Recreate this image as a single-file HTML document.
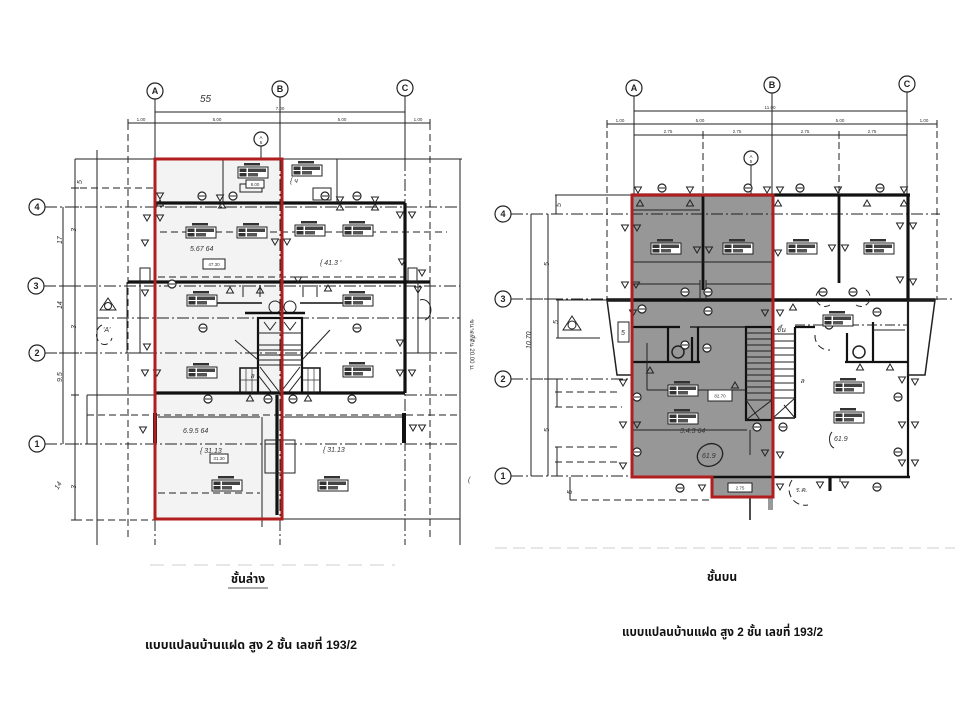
<!DOCTYPE html>
<html><head><meta charset="utf-8"><style>
html,body{margin:0;padding:0;background:#fff;}
svg{display:block}
.t{stroke:#222;stroke-width:1;fill:none}
.th{stroke:#333;stroke-width:0.7;fill:none}
.w{stroke:#111;stroke-width:3.2;fill:none}
.w2{stroke:#111;stroke-width:2.2;fill:none}
.dd{stroke-dasharray:12 3 2 3}
.da{stroke-dasharray:7 4}
.gc{fill:#fff;stroke:#222;stroke-width:1.2}
.gt{font:bold 9px "Liberation Sans",sans-serif;fill:#222;text-anchor:middle}
.sm{font:4.5px "Liberation Sans",sans-serif;fill:#333;text-anchor:middle}
.hw{font:italic 7px "Liberation Sans",sans-serif;fill:#333}
.cap{font-family:"Liberation Sans","Noto Sans Thai","Loma","Garuda","Norasi","DejaVu Sans",sans-serif;font-weight:bold;font-size:12px;fill:#111}
.red{fill:none;stroke:#b01e1e;stroke-width:3}
</style></head><body>
<svg width="960" height="720" viewBox="0 0 960 720" xmlns="http://www.w3.org/2000/svg">
<defs>
 <g id="lab">
  <rect x="6" y="0" width="16" height="2.5" fill="#333"/>
  <rect x="0" y="4" width="30" height="11" fill="#fff" stroke="#222" stroke-width="1"/>
  <rect x="1.5" y="5.5" width="7" height="3.5" fill="#333"/>
  <rect x="10" y="5.5" width="18" height="3.5" fill="#444"/>
  <rect x="1.5" y="10" width="7" height="3.5" fill="#333"/>
  <rect x="10" y="10" width="10" height="3.5" fill="#555"/>
 </g>
 <g id="tr"><path d="M-3.5,-3 H3.5 L0,3 Z" fill="none" stroke="#222" stroke-width="1"/></g>
 <g id="tu"><path d="M-3.5,3 H3.5 L0,-3 Z" fill="none" stroke="#222" stroke-width="1"/></g>
 <g id="ci"><circle r="4" fill="#fff" stroke="#222" stroke-width="1.2"/><line x1="-3" x2="3" stroke="#222" stroke-width="1"/></g>
</defs>

<!-- ================= LEFT PLAN ================= -->
<rect x="155" y="159" width="127" height="360" fill="#f3f3f3"/>

<!-- grid columns -->
<line class="t" x1="155" y1="99" x2="155" y2="159"/>
<line class="t" x1="280" y1="97" x2="280" y2="159"/>
<line class="t" x1="405" y1="96" x2="405" y2="159"/>
<line class="t dd" x1="280" y1="159" x2="280" y2="545"/>
<line class="t dd" x1="405" y1="159" x2="405" y2="545"/>
<line class="t dd" x1="155" y1="519" x2="155" y2="545"/>
<circle class="gc" cx="155" cy="91" r="8"/><text class="gt" x="155" y="94">A</text>
<circle class="gc" cx="280" cy="89" r="8"/><text class="gt" x="280" y="92">B</text>
<circle class="gc" cx="405" cy="88" r="8"/><text class="gt" x="405" y="91">C</text>
<text class="hw" x="200" y="102" style="font-size:10px">55</text>

<!-- top dimension lines -->
<line class="t" x1="155" y1="112" x2="405" y2="112"/>
<text class="sm" x="280" y="110">7.00</text>
<line class="t" x1="128" y1="123" x2="430" y2="123"/>
<g class="t"><line x1="128" y1="119" x2="128" y2="127"/><line x1="155" y1="108" x2="155" y2="127"/><line x1="280" y1="108" x2="280" y2="127"/><line x1="405" y1="108" x2="405" y2="127"/><line x1="430" y1="119" x2="430" y2="127"/></g>
<text class="sm" x="141" y="121">1.00</text><text class="sm" x="217" y="121">5.00</text><text class="sm" x="342" y="121">5.00</text><text class="sm" x="418" y="121">1.00</text>
<line class="t da" x1="128" y1="123" x2="128" y2="540"/>
<line class="t da" x1="430" y1="123" x2="430" y2="540"/>

<!-- section mark top -->
<circle class="gc" cx="261" cy="139" r="7"/><line class="t" x1="261" y1="146" x2="261" y2="159"/><text class="sm" x="261" y="139">A</text><text class="sm" x="261" y="144">5</text>

<!-- outline -->
<line class="t" x1="75" y1="159" x2="462" y2="159"/>
<line class="t" x1="97" y1="150" x2="97" y2="545"/>
<line class="t" x1="460" y1="159" x2="460" y2="545"/>
<line class="t" x1="75" y1="159" x2="75" y2="520"/>
<line class="t" x1="63" y1="207" x2="63" y2="444"/>
<g class="t"><line x1="71" y1="188" x2="79" y2="188"/><line x1="71" y1="207" x2="79" y2="207"/><line x1="71" y1="286" x2="79" y2="286"/><line x1="71" y1="353" x2="79" y2="353"/><line x1="71" y1="395" x2="79" y2="395"/><line x1="71" y1="444" x2="79" y2="444"/><line x1="71" y1="520" x2="79" y2="520"/><line x1="59" y1="286" x2="67" y2="286"/><line x1="59" y1="353" x2="67" y2="353"/></g>
<text class="hw" x="58" y="240" transform="rotate(-90 62 240)">17</text>
<text class="hw" x="58" y="305" transform="rotate(-90 62 305)">14</text>
<text class="hw" x="58" y="378" transform="rotate(-90 62 378)">9.5</text>
<text class="hw" x="72" y="228" transform="rotate(-90 76 228)">3</text>
<text class="hw" x="72" y="325" transform="rotate(-90 76 325)">3</text>
<text class="hw" x="72" y="485" transform="rotate(-90 76 485)">3</text>
<text class="hw" x="58" y="490" transform="rotate(-60 58 490)">14</text>
<text class="hw" x="80" y="182" transform="rotate(-90 82 182)">5</text>

<!-- row grid -->
<circle class="gc" cx="37" cy="207" r="8"/><text class="gt" x="37" y="210">4</text>
<circle class="gc" cx="36" cy="286" r="8"/><text class="gt" x="36" y="289">3</text>
<circle class="gc" cx="37" cy="353" r="8"/><text class="gt" x="37" y="356">2</text>
<circle class="gc" cx="37" cy="444" r="8"/><text class="gt" x="37" y="447">1</text>
<line class="t dd" x1="45" y1="207" x2="460" y2="207"/>
<line class="t dd" x1="44" y1="286" x2="460" y2="286"/>
<line class="t dd" x1="45" y1="353" x2="460" y2="353"/>
<line class="t dd" x1="45" y1="444" x2="460" y2="444"/>
<line class="t da" x1="80" y1="188" x2="155" y2="188"/>
<line class="t da" x1="160" y1="232" x2="447" y2="232"/>
<line class="t da" x1="158" y1="277" x2="405" y2="277"/>
<line class="t dd" x1="97" y1="318" x2="460" y2="318"/>
<line class="t" x1="87" y1="395" x2="155" y2="395"/>
<line class="t dd" x1="405" y1="395" x2="460" y2="395"/>
<line class="t da" x1="87" y1="415" x2="460" y2="415"/>
<line class="t" x1="87" y1="395" x2="87" y2="444"/>
<line class="t da" x1="75" y1="520" x2="155" y2="520"/>
<line class="t" x1="280" y1="519" x2="460" y2="519"/>

<!-- walls -->
<line class="w" x1="155" y1="203" x2="405" y2="203"/>
<line class="w" x1="405" y1="203" x2="405" y2="393"/>
<line class="w" x1="128" y1="282" x2="430" y2="282"/>
<line class="w" x1="155" y1="393" x2="405" y2="393"/>
<line class="t" x1="223" y1="159" x2="223" y2="203"/>
<line class="t" x1="337" y1="159" x2="337" y2="203"/>
<rect x="140" y="268" width="10" height="14" class="t"/>
<rect x="408" y="268" width="9" height="14" class="t"/>
<line class="t" x1="127" y1="282" x2="127" y2="353"/><line class="t" x1="140" y1="282" x2="140" y2="353"/>
<line class="t" x1="127" y1="353" x2="155" y2="353"/>
<line class="t" x1="418" y1="282" x2="418" y2="353"/><line class="t" x1="430" y1="282" x2="430" y2="353"/>
<line class="t" x1="405" y1="353" x2="430" y2="353"/>
<line class="t" x1="158" y1="417" x2="260" y2="417"/>
<line class="t" x1="283" y1="417" x2="403" y2="417"/>
<line class="t" x1="262" y1="417" x2="262" y2="527"/>
<line class="w" x1="277" y1="395" x2="277" y2="515"/>
<rect class="t" x="265" y="440" width="30" height="33"/>
<line class="t da" x1="158" y1="493" x2="260" y2="493"/>
<line class="w" x1="404" y1="413" x2="404" y2="443" style="stroke-width:4"/>
<line class="w" x1="155" y1="413" x2="155" y2="443" style="stroke-width:4"/>
<!-- wall details row 3 -->
<line class="w2" x1="187" y1="303" x2="262" y2="303" style="stroke-width:1.5"/>
<line class="w2" x1="300" y1="303" x2="373" y2="303" style="stroke-width:1.5"/>
<g class="t"><line x1="243" y1="285" x2="243" y2="297"/><line x1="303" y1="285" x2="303" y2="297"/><line x1="317" y1="285" x2="317" y2="297"/><line x1="260" y1="285" x2="260" y2="297"/></g>
<circle class="t" cx="275" cy="307" r="6"/><circle class="t" cx="290" cy="307" r="6"/>
<rect class="t" x="313" y="188" width="18" height="12"/>
<rect class="t" x="240" y="184" width="22" height="8"/>
<!-- stairs -->
<line class="w" x1="245" y1="313" x2="305" y2="313" style="stroke-width:2.5"/>
<rect class="w2" x="258" y="318" width="44" height="75"/>
<g class="t"><line x1="258" y1="333" x2="302" y2="333"/><line x1="258" y1="345" x2="302" y2="345"/><line x1="258" y1="350" x2="302" y2="350"/><line x1="258" y1="355" x2="302" y2="355"/><line x1="258" y1="360" x2="302" y2="360"/><line x1="258" y1="365" x2="302" y2="365"/>
<line x1="260" y1="367" x2="280" y2="393"/><line x1="300" y1="367" x2="280" y2="393"/><line x1="258" y1="375" x2="272" y2="393"/><line x1="302" y1="375" x2="288" y2="393"/>
<path d="M264,322 L270,330 L276,322 M284,322 L290,330 L296,322"/></g>
<rect class="w2" x="240" y="368" width="18" height="25" style="stroke-width:1.5"/>
<rect class="w2" x="302" y="368" width="18" height="25" style="stroke-width:1.5"/>
<g class="th"><line x1="246" y1="368" x2="246" y2="393"/><line x1="252" y1="368" x2="252" y2="393"/><line x1="240" y1="380" x2="258" y2="380"/><line x1="308" y1="368" x2="308" y2="393"/><line x1="314" y1="368" x2="314" y2="393"/><line x1="302" y1="380" x2="320" y2="380"/></g>
<line class="t" x1="235" y1="340" x2="258" y2="360"/><line class="t" x1="302" y1="360" x2="330" y2="330"/>

<!-- circles -->
<use href="#ci" x="202" y="196"/><use href="#ci" x="233" y="196"/><use href="#ci" x="325" y="196"/><use href="#ci" x="357" y="196"/>
<use href="#ci" x="208" y="399"/><use href="#ci" x="268" y="399"/><use href="#ci" x="293" y="399"/><use href="#ci" x="352" y="399"/>
<use href="#ci" x="203" y="328"/><use href="#ci" x="357" y="328"/><use href="#ci" x="172" y="284"/>

<!-- triangles -->
<use href="#tr" x="160" y="196"/><use href="#tu" x="160" y="203"/><use href="#tr" x="220" y="198"/><use href="#tu" x="222" y="205"/>
<use href="#tr" x="340" y="200"/><use href="#tu" x="340" y="207"/><use href="#tr" x="375" y="200"/><use href="#tu" x="375" y="207"/>
<use href="#tr" x="147" y="218"/><use href="#tr" x="160" y="218"/><use href="#tr" x="400" y="215"/><use href="#tr" x="412" y="215"/>
<use href="#tr" x="145" y="243"/><use href="#tr" x="275" y="242"/><use href="#tr" x="287" y="242"/><use href="#tr" x="402" y="262"/>
<use href="#tu" x="230" y="290"/><use href="#tu" x="260" y="290"/><use href="#tr" x="298" y="280"/><use href="#tu" x="328" y="288"/><use href="#tr" x="422" y="273"/>
<use href="#tr" x="145" y="373"/><use href="#tr" x="157" y="373"/><use href="#tr" x="400" y="373"/><use href="#tr" x="412" y="373"/>
<use href="#tu" x="250" y="398"/><use href="#tu" x="308" y="398"/><use href="#tr" x="143" y="430"/><use href="#tr" x="413" y="428"/><use href="#tr" x="422" y="428"/>
<use href="#tr" x="147" y="347"/><use href="#tr" x="400" y="343"/><use href="#tr" x="145" y="293"/><use href="#tr" x="418" y="290"/>

<!-- room labels -->
<use href="#lab" x="238" y="163"/><use href="#lab" x="292" y="161"/>
<use href="#lab" x="186" y="223"/><use href="#lab" x="237" y="223"/><use href="#lab" x="295" y="221"/><use href="#lab" x="343" y="221"/>
<use href="#lab" x="187" y="291"/><use href="#lab" x="343" y="291"/>
<use href="#lab" x="187" y="363"/><use href="#lab" x="343" y="362"/>
<use href="#lab" x="212" y="476"/><use href="#lab" x="318" y="476"/>
<rect x="203" y="259" width="22" height="10" fill="#fff" stroke="#222"/><text class="sm" x="214" y="266">47.30</text>
<rect x="210" y="454" width="18" height="9" fill="#fff" stroke="#222"/><text class="sm" x="219" y="460">31.30</text>
<rect x="246" y="180" width="18" height="8" fill="#fff" stroke="#222"/><text class="sm" x="255" y="186">8.00</text>
<text class="hw" x="190" y="251">5.67 64</text>
<text class="hw" x="320" y="265">{ 41.3 '</text>
<text class="hw" x="183" y="433">6.9.5 64</text>
<text class="hw" x="200" y="453">{ 31.13</text>
<text class="hw" x="323" y="452">{ 31.13</text>
<text class="hw" x="290" y="183">{ ч</text>
<text class="hw" x="250" y="378">ล</text>
<!-- section mark left -->
<path d="M100,310 L108,298 L116,310 Z" class="t"/><circle class="t" cx="108" cy="306" r="3.5"/>
<path d="M102,325 A8,10 0 1 0 112,338" class="t da"/>
<text class="hw" x="103" y="332">'A'</text>
<path d="M420,300 A8,10 0 0 1 425,320" class="t"/>
<text class="sm" x="470" y="345" transform="rotate(90 470 345)" style="font-size:6px">ขนาดที่ดิน 20.00 ม.</text>
<text class="hw" x="468" y="482">(</text>

<rect class="red" x="155" y="159" width="127" height="360"/>

<!-- ================= RIGHT PLAN ================= -->
<polygon points="632,195 773,195 773,497 712,497 712,477 632,477" fill="#979797"/>

<line class="t" x1="634" y1="96" x2="634" y2="195"/>
<line class="t" x1="772" y1="93" x2="772" y2="195"/>
<line class="t" x1="907" y1="92" x2="907" y2="195"/>
<line class="t da" x1="703" y1="131" x2="703" y2="195"/>
<line class="t da" x1="839" y1="131" x2="839" y2="195"/>
<line class="t da" x1="607" y1="120" x2="607" y2="300"/>
<line class="t da" x1="937" y1="120" x2="937" y2="300"/>
<circle class="gc" cx="634" cy="88" r="8"/><text class="gt" x="634" y="91">A</text>
<circle class="gc" cx="772" cy="85" r="8"/><text class="gt" x="772" y="88">B</text>
<circle class="gc" cx="907" cy="84" r="8"/><text class="gt" x="907" y="87">C</text>
<line class="t" x1="634" y1="111" x2="907" y2="111"/><text class="sm" x="770" y="109">11.00</text>
<line class="t" x1="607" y1="124" x2="937" y2="124"/>
<line class="t" x1="634" y1="135" x2="907" y2="135"/>
<g class="t"><line x1="607" y1="120" x2="607" y2="128"/><line x1="937" y1="120" x2="937" y2="128"/><line x1="703" y1="131" x2="703" y2="139"/><line x1="839" y1="131" x2="839" y2="139"/></g>
<text class="sm" x="620" y="122">1.00</text><text class="sm" x="700" y="122">5.00</text><text class="sm" x="840" y="122">5.00</text><text class="sm" x="924" y="122">1.00</text>
<text class="sm" x="668" y="133">2.75</text><text class="sm" x="737" y="133">2.75</text><text class="sm" x="805" y="133">2.75</text><text class="sm" x="872" y="133">2.75</text>
<circle class="gc" cx="751" cy="158" r="7"/><line class="t" x1="751" y1="165" x2="751" y2="195"/><text class="sm" x="751" y="158">A</text><text class="sm" x="751" y="163">5</text>

<!-- row grid -->
<circle class="gc" cx="503" cy="214" r="8"/><text class="gt" x="503" y="217">4</text>
<circle class="gc" cx="503" cy="299" r="8"/><text class="gt" x="503" y="302">3</text>
<circle class="gc" cx="503" cy="379" r="8"/><text class="gt" x="503" y="382">2</text>
<circle class="gc" cx="503" cy="476" r="8"/><text class="gt" x="503" y="479">1</text>
<line class="t dd" x1="511" y1="214" x2="940" y2="214"/>
<line class="t dd" x1="511" y1="299" x2="607" y2="299"/>
<line class="t dd" x1="935" y1="299" x2="952" y2="299"/>
<line class="t dd" x1="511" y1="379" x2="632" y2="379"/>
<line class="t dd" x1="511" y1="476" x2="632" y2="476"/>
<line class="t" x1="531" y1="214" x2="531" y2="476"/>
<line class="t" x1="548" y1="214" x2="548" y2="476"/>
<g class="t"><line x1="544" y1="299" x2="552" y2="299"/><line x1="527" y1="299" x2="535" y2="299"/><line x1="544" y1="379" x2="552" y2="379"/></g>
<text class="hw" x="545" y="262" transform="rotate(-90 549 262)">5</text>
<text class="hw" x="527" y="345" transform="rotate(-90 531 345)">10.70</text>
<text class="hw" x="545" y="428" transform="rotate(-90 549 428)">5</text>
<line class="t" x1="555" y1="195" x2="632" y2="195"/><line class="t" x1="556" y1="195" x2="556" y2="214"/>
<text class="hw" x="557" y="207" transform="rotate(-90 559 205)">5</text>
<line class="t" x1="556" y1="300" x2="607" y2="300"/><line class="t" x1="556" y1="338" x2="600" y2="338"/><line class="t" x1="558" y1="300" x2="558" y2="338"/>
<text class="hw" x="554" y="320" transform="rotate(-90 558 320)">5</text>
<g class="t da"><line x1="555" y1="392" x2="620" y2="392"/><line x1="555" y1="407" x2="622" y2="407"/><line x1="555" y1="447" x2="620" y2="447"/><line x1="555" y1="462" x2="620" y2="462"/></g>
<line class="t" x1="557" y1="379" x2="557" y2="407"/><line class="t" x1="557" y1="447" x2="557" y2="476"/>
<line class="t" x1="570" y1="477" x2="570" y2="500"/><line class="t da" x1="570" y1="500" x2="712" y2="500"/>
<text class="hw" x="566" y="492" transform="rotate(-90 570 490)">5</text>
<!-- section mark -->
<path d="M563,330 L572,316 L581,330 Z" class="t"/><circle class="t" cx="572" cy="325" r="4"/>

<!-- walls -->
<line class="w" x1="632" y1="195" x2="910" y2="195"/>
<line class="w" x1="703" y1="195" x2="703" y2="290" style="stroke-width:2.8"/>
<line class="w" x1="839" y1="195" x2="839" y2="283" style="stroke-width:2.8"/>
<line class="w" x1="908" y1="195" x2="908" y2="300"/>
<line class="w2" x1="908" y1="300" x2="908" y2="477"/>
<line class="w" x1="607" y1="300" x2="935" y2="300" style="stroke-width:3.6"/>
<line class="w2" x1="773" y1="477" x2="910" y2="477" style="stroke-width:2.6"/>
<polygon class="t" points="607,300 632,300 632,375 617,375" style="stroke-width:1.5"/>
<rect x="618" y="322" width="11" height="20" fill="#fff" stroke="#222"/><text class="hw" x="621" y="335">5</text>
<polygon class="t" points="908,300 935,300 925,375 908,375" style="stroke-width:1.5"/>
<!-- inside red -->
<line class="w2" x1="632" y1="327" x2="680" y2="327"/>
<line class="t" x1="690" y1="327" x2="746" y2="327" style="stroke-width:1.6"/>
<line class="w2" x1="668" y1="327" x2="668" y2="362"/>
<line class="w2" x1="692" y1="337" x2="692" y2="362"/>
<line class="w2" x1="698" y1="327" x2="698" y2="362"/>
<line class="w2" x1="632" y1="362" x2="700" y2="362"/>
<line class="t" x1="647" y1="343" x2="647" y2="390"/>
<line class="t" x1="647" y1="390" x2="745" y2="390"/>
<line class="t" x1="633" y1="430" x2="747" y2="430"/>
<line class="t" x1="750" y1="430" x2="750" y2="455"/>
<line class="t" x1="632" y1="262" x2="703" y2="262"/><line class="t" x1="703" y1="262" x2="772" y2="262"/>
<line class="t" x1="632" y1="284" x2="700" y2="284"/><line class="t" x1="706" y1="284" x2="772" y2="284"/>
<line class="t" x1="632" y1="210" x2="700" y2="210"/>
<line class="t" x1="700" y1="280" x2="700" y2="300"/><line class="t" x1="706" y1="280" x2="706" y2="300"/>
<circle class="t" cx="678" cy="352" r="6" style="stroke-width:1.5"/>
<circle class="t" cx="859" cy="352" r="6" style="stroke-width:1.5"/>
<!-- stairs dark -->
<rect class="w2" x="746" y="327" width="26" height="93"/>
<g class="t"><line x1="746" y1="333" x2="772" y2="333"/><line x1="746" y1="339" x2="772" y2="339"/><line x1="746" y1="345" x2="772" y2="345"/><line x1="746" y1="351" x2="772" y2="351"/><line x1="746" y1="357" x2="772" y2="357"/><line x1="746" y1="363" x2="772" y2="363"/><line x1="746" y1="369" x2="772" y2="369"/><line x1="746" y1="375" x2="772" y2="375"/><line x1="746" y1="381" x2="772" y2="381"/><line x1="746" y1="387" x2="772" y2="387"/><line x1="746" y1="393" x2="772" y2="393"/><line x1="746" y1="400" x2="772" y2="400"/><line x1="746" y1="420" x2="772" y2="400"/><line x1="746" y1="400" x2="760" y2="420"/></g>
<!-- stairs light -->
<line class="w2" x1="795" y1="327" x2="795" y2="418"/>
<line class="w2" x1="795" y1="327" x2="815" y2="327"/>
<line class="w2" x1="773" y1="418" x2="795" y2="418" style="stroke-width:1.5"/>
<g class="t"><line x1="773" y1="334" x2="795" y2="334"/><line x1="773" y1="341" x2="795" y2="341"/><line x1="773" y1="348" x2="795" y2="348"/><line x1="773" y1="355" x2="795" y2="355"/><line x1="773" y1="362" x2="795" y2="362"/><line x1="773" y1="369" x2="795" y2="369"/><line x1="773" y1="376" x2="795" y2="376"/><line x1="773" y1="383" x2="795" y2="383"/><line x1="773" y1="390" x2="795" y2="390"/><line x1="773" y1="398" x2="795" y2="398"/><line x1="773" y1="418" x2="795" y2="398"/><line x1="795" y1="418" x2="784" y2="405"/></g>
<text class="hw" x="776" y="332">ขึ้น</text>
<text class="hw" x="800" y="383">ล</text>
<!-- toilet right -->
<line class="w2" x1="847" y1="333" x2="847" y2="362"/>
<line class="w2" x1="873" y1="322" x2="873" y2="362"/>
<line class="w2" x1="845" y1="362" x2="908" y2="362"/>
<line class="t" x1="795" y1="325" x2="908" y2="325" style="stroke-dasharray:10 3 2 3"/>
<line class="t" x1="873" y1="330" x2="905" y2="330"/>
<path class="t da" d="M820,290 A9,9 0 0 0 830,305"/><path class="t da" d="M866,290 A9,9 0 0 1 856,305"/>
<path class="t da" d="M815,335 A14,14 0 0 0 830,350"/>
<!-- bottom box -->
<rect class="w2" x="712" y="477" width="61" height="20" style="stroke-width:2.5"/>
<rect x="728" y="483" width="24" height="9" fill="#fff" stroke="#222"/><text class="sm" x="740" y="489.5">2.75</text>
<line class="t" x1="750" y1="497" x2="750" y2="520" style="stroke-width:1.6"/>
<rect x="768" y="497" width="5" height="13" fill="#999"/>
<line class="w" x1="830" y1="477" x2="830" y2="491"/>
<path class="t da" d="M792,480 A16,16 0 0 0 808,505"/>
<text class="hw" x="795" y="492">ร.ค.</text>
<line class="t" x1="840" y1="477" x2="840" y2="482"/>

<!-- circles R -->
<use href="#ci" x="662" y="188"/><use href="#ci" x="748" y="188"/><use href="#ci" x="800" y="188"/><use href="#ci" x="880" y="188"/>
<use href="#ci" x="685" y="292"/><use href="#ci" x="708" y="292"/><use href="#ci" x="823" y="292"/><use href="#ci" x="853" y="292"/>
<use href="#ci" x="642" y="309"/><use href="#ci" x="708" y="311"/><use href="#ci" x="685" y="345"/><use href="#ci" x="707" y="348"/>
<use href="#ci" x="877" y="312"/><use href="#ci" x="898" y="397"/><use href="#ci" x="898" y="452"/><use href="#ci" x="829" y="325"/>
<use href="#ci" x="637" y="397"/><use href="#ci" x="637" y="452"/><use href="#ci" x="757" y="427"/><use href="#ci" x="783" y="427"/>
<use href="#ci" x="680" y="488"/><use href="#ci" x="877" y="487"/>

<!-- triangles R -->
<use href="#tr" x="638" y="190"/><use href="#tr" x="690" y="190"/><use href="#tr" x="767" y="190"/><use href="#tr" x="780" y="190"/><use href="#tr" x="838" y="190"/><use href="#tr" x="904" y="190"/>
<use href="#tu" x="640" y="203"/><use href="#tu" x="690" y="203"/><use href="#tu" x="778" y="203"/><use href="#tu" x="867" y="203"/><use href="#tu" x="904" y="203"/>
<use href="#tr" x="625" y="228"/><use href="#tr" x="637" y="228"/><use href="#tr" x="625" y="285"/><use href="#tr" x="636" y="285"/>
<use href="#tr" x="697" y="250"/><use href="#tr" x="709" y="250"/><use href="#tr" x="778" y="253"/><use href="#tr" x="832" y="248"/><use href="#tr" x="845" y="248"/>
<use href="#tr" x="900" y="226"/><use href="#tr" x="913" y="226"/><use href="#tr" x="900" y="280"/><use href="#tr" x="913" y="282"/>
<use href="#tr" x="633" y="313"/><use href="#tr" x="765" y="313"/><use href="#tr" x="780" y="313"/><use href="#tu" x="793" y="307"/>
<use href="#tu" x="860" y="367"/><use href="#tu" x="890" y="367"/><use href="#tu" x="650" y="370"/><use href="#tu" x="735" y="385"/>
<use href="#tr" x="623" y="383"/><use href="#tr" x="623" y="425"/><use href="#tr" x="637" y="425"/><use href="#tr" x="623" y="466"/>
<use href="#tr" x="765" y="453"/><use href="#tr" x="780" y="455"/><use href="#tr" x="902" y="380"/><use href="#tr" x="915" y="382"/>
<use href="#tr" x="902" y="425"/><use href="#tr" x="915" y="425"/><use href="#tr" x="902" y="463"/><use href="#tr" x="915" y="463"/>
<use href="#tr" x="702" y="488"/><use href="#tr" x="780" y="487"/><use href="#tr" x="820" y="485"/><use href="#tr" x="845" y="485"/>

<!-- labels R -->
<use href="#lab" x="651" y="239"/><use href="#lab" x="723" y="239"/><use href="#lab" x="787" y="239"/><use href="#lab" x="864" y="239"/>
<use href="#lab" x="823" y="311"/><use href="#lab" x="668" y="381"/><use href="#lab" x="668" y="409"/>
<use href="#lab" x="834" y="378"/><use href="#lab" x="834" y="408"/>
<rect x="708" y="390" width="24" height="11" fill="#fff" stroke="#222"/><text class="sm" x="720" y="397.5">82.70</text>
<ellipse class="t" cx="710" cy="455" rx="13" ry="11" transform="rotate(-25 710 455)" style="stroke-width:1.3"/>
<text class="hw" x="702" y="458">61.9</text>
<text class="hw" x="680" y="433">3.4.3 64</text>
<path class="t" d="M832,432 A6,9 0 0 0 834,448"/><text class="hw" x="834" y="441">61.9</text>

<polygon class="red" points="632,195 773,195 773,497 712,497 712,477 632,477"/>

<!-- faint scan lines -->
<line x1="150" y1="565" x2="395" y2="565" stroke="#cfcfcf" stroke-width="1" stroke-dasharray="14 8"/>
<line x1="495" y1="548" x2="955" y2="548" stroke="#cfcfcf" stroke-width="1" stroke-dasharray="12 6"/>

<!-- captions -->
<text class="cap" x="248" y="583" text-anchor="middle">ชั้นล่าง</text>
<line x1="228" y1="588" x2="268" y2="588" stroke="#222" stroke-width="0.8"/>
<text class="cap" x="145" y="649" textLength="212" lengthAdjust="spacingAndGlyphs">แบบแปลนบ้านแฝด สูง 2 ชั้น เลขที่ 193/2</text>
<text class="cap" x="722" y="581" text-anchor="middle">ชั้นบน</text>
<text class="cap" x="622" y="636" textLength="201" lengthAdjust="spacingAndGlyphs">แบบแปลนบ้านแฝด สูง 2 ชั้น เลขที่ 193/2</text>
</svg>
</body></html>
